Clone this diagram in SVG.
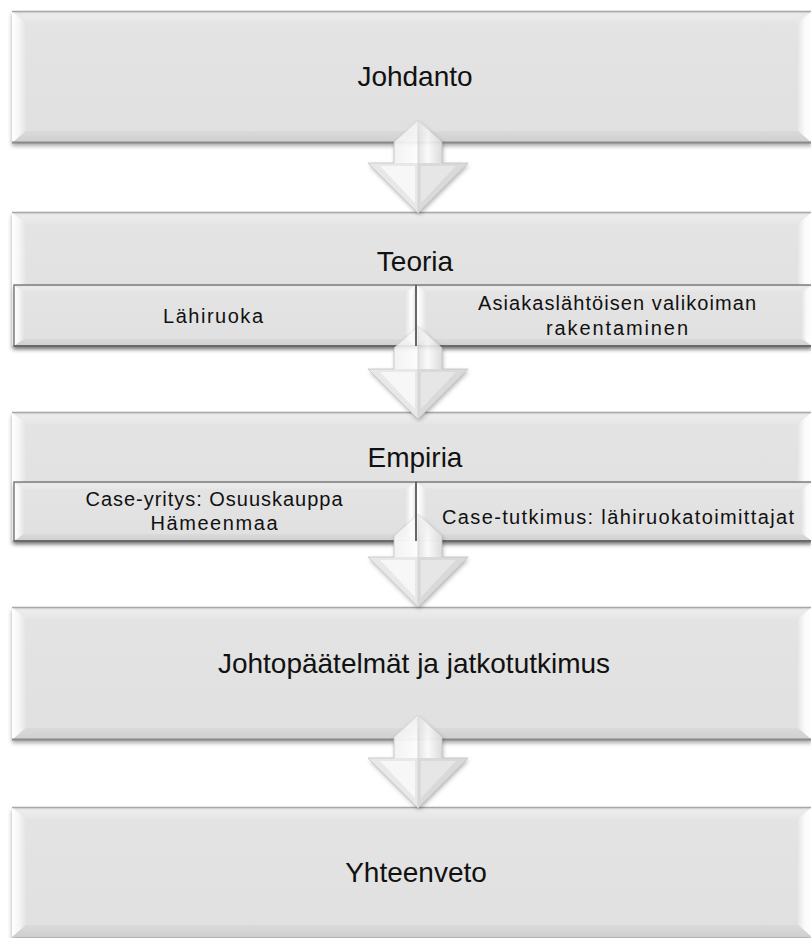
<svg xmlns="http://www.w3.org/2000/svg" xmlns:xlink="http://www.w3.org/1999/xlink" width="811" height="938" viewBox="0 0 811 938">
<defs>
  <filter id="boxShadow" x="-5%" y="-10%" width="110%" height="130%">
    <feDropShadow dx="0" dy="3" stdDeviation="2" flood-color="#000" flood-opacity="0.35"/>
  </filter>
  <filter id="arrowShadow" x="-30%" y="-20%" width="160%" height="150%">
    <feDropShadow dx="1" dy="2" stdDeviation="2" flood-color="#000" flood-opacity="0.3"/>
  </filter>
  <linearGradient id="gLeft" x1="0" y1="0" x2="1" y2="0">
    <stop offset="0" stop-color="#ffffff"/>
    <stop offset="0.5" stop-color="#f6f6f6"/>
    <stop offset="1" stop-color="#e3e3e3"/>
  </linearGradient>
  <linearGradient id="gRight" x1="0" y1="0" x2="1" y2="0">
    <stop offset="0" stop-color="#e6e6e6"/>
    <stop offset="0.5" stop-color="#fbfbfb"/>
    <stop offset="1" stop-color="#ffffff"/>
  </linearGradient>
  <linearGradient id="gTop" x1="0" y1="0" x2="0" y2="1">
    <stop offset="0" stop-color="#d9d9d9"/>
    <stop offset="0.3" stop-color="#ececec"/>
    <stop offset="1" stop-color="#e6e6e6"/>
  </linearGradient>
  <linearGradient id="gBottom" x1="0" y1="0" x2="0" y2="1">
    <stop offset="0" stop-color="#dadada"/>
    <stop offset="1" stop-color="#cfcfcf"/>
  </linearGradient>
  <linearGradient id="gFace" x1="0" y1="0" x2="0" y2="1">
    <stop offset="0" stop-color="#e4e4e4"/>
    <stop offset="1" stop-color="#e0e0e0"/>
  </linearGradient>
  <linearGradient id="gShaftL" x1="0" y1="0" x2="1" y2="0">
    <stop offset="0" stop-color="#f2f2f2"/>
    <stop offset="1" stop-color="#fdfdfd"/>
  </linearGradient>
  <linearGradient id="gShaftR" x1="0" y1="0" x2="1" y2="0">
    <stop offset="0" stop-color="#e2e2e2"/>
    <stop offset="0.4" stop-color="#fafafa"/>
    <stop offset="1" stop-color="#dcdcdc"/>
  </linearGradient>
  <linearGradient id="gFade" x1="0" y1="0" x2="0" y2="1">
    <stop offset="0" stop-color="#808080"/>
    <stop offset="0.25" stop-color="#ffffff"/>
    <stop offset="1" stop-color="#ffffff"/>
  </linearGradient>
  <mask id="arrowFade" maskContentUnits="objectBoundingBox">
    <rect x="-0.2" y="0" width="1.4" height="1.2" fill="url(#gFade)"/>
  </mask>
  <g id="arrow">
    <path d="M-24,-71 L0,-93 L24,-71 L24,-50 L50,-50 L0,0 L-50,-50 L-24,-50 Z" fill="#ececec" filter="url(#arrowShadow)"/>
    <path d="M-24,-71 L0,-93 L0,-50 L-24,-50 Z" fill="url(#gShaftL)"/>
    <path d="M0,-93 L24,-71 L24,-50 L0,-50 Z" fill="url(#gShaftR)"/>
    <path d="M-50,-50 L0,-50 L0,0 Z" fill="#e8e8e8"/>
    <path d="M-38,-47 L-3,-47 L-3,-10 Z" fill="#f7f7f7"/>
    <path d="M0,-50 L50,-50 L0,0 Z" fill="#d9d9d9"/>
    <path d="M3,-47 L38,-47 L3,-10 Z" fill="#e6e6e6"/>
    <path d="M-24,-71 L0,-93 L24,-71 L24,-50 L50,-50 L0,0 L-50,-50 L-24,-50 Z" fill="none" stroke="#c4c4c4" stroke-width="0.8"/>
    <line x1="0" y1="-93" x2="0" y2="0" stroke="#cfcfcf" stroke-width="0.8"/>
  </g>
</defs>
<style>
  .base { fill: url(#gFace); filter: url(#boxShadow); }
  .ft { fill: url(#gTop); }
  .fl { fill: url(#gLeft); }
  .fr { fill: url(#gRight); }
  .fb { fill: url(#gBottom); }
  .face { fill: url(#gFace); }
  .edgeTop { stroke: #a8a8a8; stroke-width: 1.5; }
  .edgeBot { stroke: #8a8a8a; stroke-width: 2; }
  .sub { fill: none; stroke: #7e7e7e; stroke-width: 1.5; }
  .subBot { stroke: #6a6a6a; stroke-width: 2; }
  .divider { stroke: #666666; stroke-width: 2; }
  .lbl { font-family: "Liberation Sans", Arial, sans-serif; font-size: 28px; fill: #111; text-anchor: middle; }
  .sl { font-family: "Liberation Sans", Arial, sans-serif; font-size: 20px; fill: #111; text-anchor: middle; }
</style>
<rect x="0" y="0" width="811" height="938" fill="#ffffff"/>

<g id="johdanto">
  <rect class="base" x="12" y="11" width="800" height="132"/>
  <polygon class="ft" points="12,11 812,11 798,23 26,23"/>
  <polygon class="fl" points="12,11 26,23 26,131 12,143"/>
  <polygon class="fr" points="812,11 812,143 798,131 798,23"/>
  <polygon class="fb" points="12,143 26,131 798,131 812,143"/>
  <line class="edgeTop" x1="12" y1="11.5" x2="812" y2="11.5"/>
  <line class="edgeBot" x1="12" y1="142.5" x2="812" y2="142.5"/>
  <text class="lbl" x="415" y="86">Johdanto</text>
</g>

<g id="teoria">
  <rect class="base" x="12" y="212" width="800" height="134"/>
  <polygon class="ft" points="12,212 812,212 798,224 26,224"/>
  <polygon class="fl" points="12,212 26,224 26,334 12,346"/>
  <polygon class="fr" points="812,212 812,346 798,334 798,224"/>
  <polygon class="fb" points="12,346 26,334 798,334 812,346"/>
  <line class="edgeTop" x1="12" y1="212.5" x2="812" y2="212.5"/>
  <text class="lbl" x="415" y="271">Teoria</text>
  <g id="lahiruoka">
    <rect class="face" x="14" y="285" width="402" height="61" filter="url(#boxShadow)"/>
    <polygon class="ft" points="14,285 416,285 406,292 24,292"/>
    <polygon class="fl" points="14,285 24,292 24,339 14,346"/>
    <polygon class="fr" points="416,285 416,346 406,339 406,292"/>
    <polygon class="fb" points="14,346 24,339 406,339 416,346"/>
    <rect class="sub" x="14" y="285" width="402" height="61"/>
    <line class="subBot" x1="14" y1="346" x2="416" y2="346"/>
    <text class="sl" x="213" y="323" textLength="100" lengthAdjust="spacing">Lähiruoka</text>
  </g>
  <g id="valikoima">
    <rect class="face" x="416" y="285" width="396" height="61" filter="url(#boxShadow)"/>
    <polygon class="ft" points="416,285 812,285 802,292 426,292"/>
    <polygon class="fl" points="416,285 426,292 426,339 416,346"/>
    <polygon class="fr" points="812,285 812,346 802,339 802,292"/>
    <polygon class="fb" points="416,346 426,339 802,339 812,346"/>
    <rect class="sub" x="416" y="285" width="396" height="61"/>
    <line class="subBot" x1="416" y1="346" x2="812" y2="346"/>
    <text class="sl" x="617" y="310" textLength="278" lengthAdjust="spacing">Asiakaslähtöisen valikoiman</text>
    <text class="sl" x="617" y="335" textLength="142" lengthAdjust="spacing">rakentaminen</text>
  </g>
</g>

<g id="empiria">
  <rect class="base" x="12" y="412" width="800" height="129"/>
  <polygon class="ft" points="12,412 812,412 798,424 26,424"/>
  <polygon class="fl" points="12,412 26,424 26,529 12,541"/>
  <polygon class="fr" points="812,412 812,541 798,529 798,424"/>
  <polygon class="fb" points="12,541 26,529 798,529 812,541"/>
  <line class="edgeTop" x1="12" y1="412.5" x2="812" y2="412.5"/>
  <text class="lbl" x="415" y="467">Empiria</text>
  <g id="case-yritys">
    <rect class="face" x="14" y="482" width="402" height="59" filter="url(#boxShadow)"/>
    <polygon class="ft" points="14,482 416,482 406,489 24,489"/>
    <polygon class="fl" points="14,482 24,489 24,534 14,541"/>
    <polygon class="fr" points="416,482 416,541 406,534 406,489"/>
    <polygon class="fb" points="14,541 24,534 406,534 416,541"/>
    <rect class="sub" x="14" y="482" width="402" height="59"/>
    <line class="subBot" x1="14" y1="541" x2="416" y2="541"/>
    <text class="sl" x="214" y="506" textLength="257" lengthAdjust="spacing">Case-yritys: Osuuskauppa</text>
    <text class="sl" x="214" y="530" textLength="127" lengthAdjust="spacing">Hämeenmaa</text>
  </g>
  <g id="case-tutkimus">
    <rect class="face" x="416" y="482" width="396" height="59" filter="url(#boxShadow)"/>
    <polygon class="ft" points="416,482 812,482 802,489 426,489"/>
    <polygon class="fl" points="416,482 426,489 426,534 416,541"/>
    <polygon class="fr" points="812,482 812,541 802,534 802,489"/>
    <polygon class="fb" points="416,541 426,534 802,534 812,541"/>
    <rect class="sub" x="416" y="482" width="396" height="59"/>
    <line class="subBot" x1="416" y1="541" x2="812" y2="541"/>
    <text class="sl" x="618" y="524" textLength="352" lengthAdjust="spacing">Case-tutkimus: lähiruokatoimittajat</text>
  </g>
</g>

<g id="johtopaatelmat">
  <rect class="base" x="12" y="607" width="800" height="133"/>
  <polygon class="ft" points="12,607 812,607 798,619 26,619"/>
  <polygon class="fl" points="12,607 26,619 26,728 12,740"/>
  <polygon class="fr" points="812,607 812,740 798,728 798,619"/>
  <polygon class="fb" points="12,740 26,728 798,728 812,740"/>
  <line class="edgeTop" x1="12" y1="607.5" x2="812" y2="607.5"/>
  <line class="edgeBot" x1="12" y1="739.5" x2="812" y2="739.5"/>
  <text class="lbl" x="414" y="673">Johtopäätelmät ja jatkotutkimus</text>
</g>

<g id="yhteenveto">
  <rect class="base" x="12" y="807" width="800" height="130"/>
  <polygon class="ft" points="12,807 812,807 798,819 26,819"/>
  <polygon class="fl" points="12,807 26,819 26,925 12,937"/>
  <polygon class="fr" points="812,807 812,937 798,925 798,819"/>
  <polygon class="fb" points="12,937 26,925 798,925 812,937"/>
  <line class="edgeTop" x1="12" y1="807.5" x2="812" y2="807.5"/>
  <text class="lbl" x="416" y="882">Yhteenveto</text>
</g>

<g id="connectors">
  <g mask="url(#arrowFade)"><use xlink:href="#arrow" transform="translate(418,213)"/></g>
  <g mask="url(#arrowFade)"><use xlink:href="#arrow" transform="translate(418,419)"/></g>
  <g mask="url(#arrowFade)"><use xlink:href="#arrow" transform="translate(418,607)"/></g>
  <g mask="url(#arrowFade)"><use xlink:href="#arrow" transform="translate(418,808)"/></g>
</g>

<g id="dividers">
  <line class="divider" x1="416" y1="285" x2="416" y2="346"/>
  <line class="divider" x1="416" y1="482" x2="416" y2="541"/>
</g>
</svg>
